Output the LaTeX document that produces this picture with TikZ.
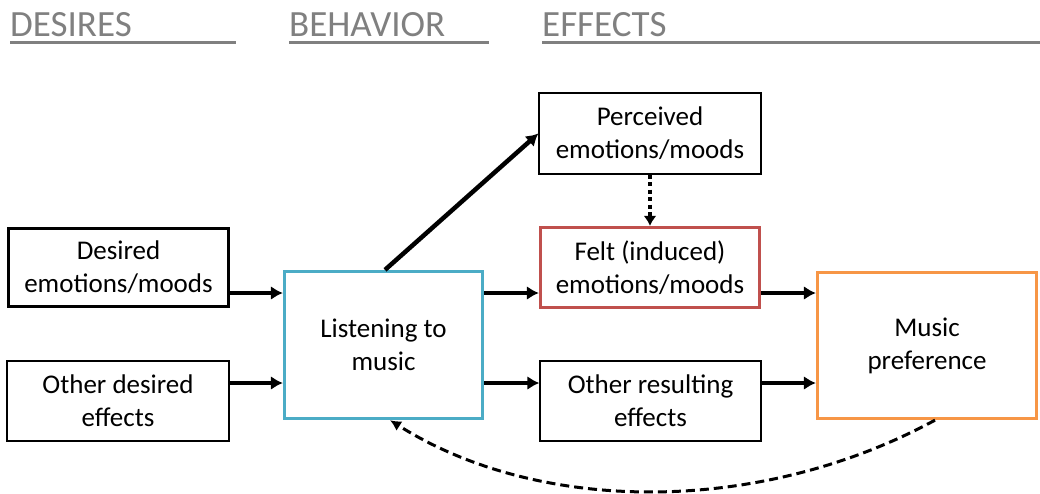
\documentclass[tikz,border=0pt]{standalone}
\usepackage{fontspec}
\setmainfont{Carlito}
\usetikzlibrary{arrows.meta}
\definecolor{hdrgray}{HTML}{808080}
\definecolor{bluebox}{HTML}{4BACC6}
\definecolor{redbox}{HTML}{C0504D}
\definecolor{orangebox}{HTML}{F79646}
\begin{document}
\begin{tikzpicture}[x=1pt,y=-1pt,
  hdr/.style={anchor=base west,inner sep=0pt,text=hdrgray,font=\fontsize{37}{44}\selectfont},
  hdrline/.style={draw=hdrgray,line width=3pt},
  box/.style={draw,align=center,inner sep=0pt,font=\fontsize{27}{33}\selectfont},
  thinbox/.style={box,line width=1.3pt},
  thickbox/.style={box,line width=3.3pt},
  arr/.style={line width=4.5pt,-{Latex[length=12pt,width=14pt]}},
  dotarr/.style={line width=4pt,dash pattern=on 4pt off 3.5pt,-{Latex[length=10pt,width=13pt]}},
  dasharr/.style={line width=3pt,dash pattern=on 9pt off 5pt,-{Latex[length=11pt,width=11pt]}}]
\useasboundingbox (0,0) rectangle (1040,493);

% column headings
\node[hdr] (hdes) at (10,36) {DESIRES};
\node[hdr] (hbeh) at (289,36) {BEHAVIOR};
\node[hdr] (heff) at (542,36) {EFFECTS};
\draw[hdrline] (10,42) -- (236,42);
\draw[hdrline] (289,42) -- (489,42);
\draw[hdrline] (542,42) -- (1040,42);

% boxes
\node[thickbox,minimum width=220pt,minimum height=78pt] (desired) at (118.5,267.5) {Desired\\emotions/moods};
\node[thinbox,minimum width=222pt,minimum height=80pt] (otherdes) at (118,401) {Other desired\\effects};
\node[thickbox,draw=bluebox,minimum width=198pt,minimum height=147pt] (listen) at (383.5,345) {Listening to\\music};
\node[thinbox,minimum width=222pt,minimum height=81pt] (perceived) at (650,133.5) {Perceived\\emotions/moods};
\node[thickbox,draw=redbox,minimum width=219pt,minimum height=80pt] (felt) at (650,267.5) {Felt (induced)\\emotions/moods};
\node[thinbox,minimum width=221pt,minimum height=80pt] (otherres) at (650.5,401) {Other resulting\\effects};
\node[thickbox,draw=orangebox,minimum width=219pt,minimum height=146pt] (music) at (927,345.5) {Music\\preference};

% rows of the horizontal connectors
\coordinate (rowA) at (0,293);
\coordinate (rowB) at (0,383);

% connectors
\draw[arr] (desired.east |- rowA) -- (listen.west |- rowA);
\draw[arr] (otherdes.east |- rowB) -- (listen.west |- rowB);
\draw[arr] (listen.east |- rowA) -- (felt.west |- rowA);
\draw[arr] (listen.east |- rowB) -- (otherres.west |- rowB);
\draw[arr] (felt.east |- rowA) -- (music.west |- rowA);
\draw[arr] (otherres.east |- rowB) -- (music.west |- rowB);
\draw[arr] ([xshift=1.5pt]listen.north) -- (perceived.west);
\draw[dotarr] (perceived.south) -- (felt.north);
\draw[dasharr] ([xshift=8pt]music.south) .. controls (760,515) and (540,515) .. ([xshift=6.5pt]listen.south);
\end{tikzpicture}
\end{document}
